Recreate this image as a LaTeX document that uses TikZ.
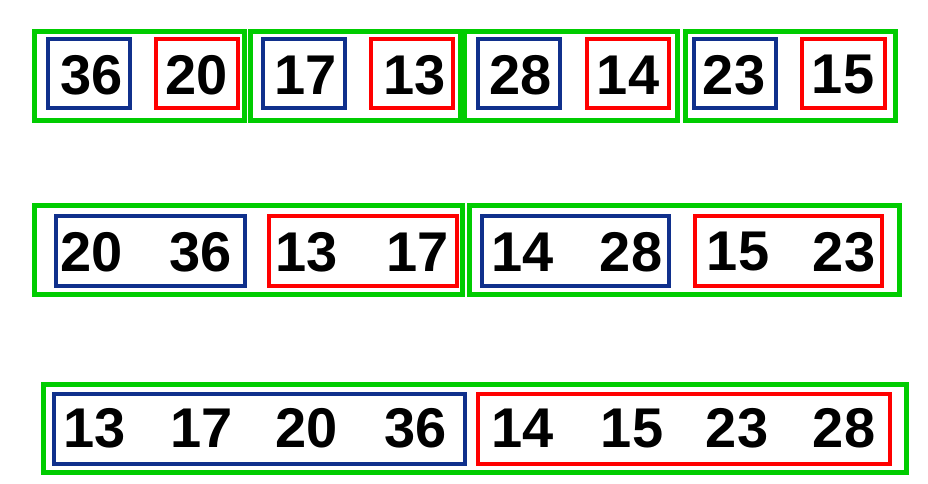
\documentclass[tikz,border=0pt]{standalone}
\usepackage{fontspec}
\setmainfont{Liberation Sans}
\definecolor{boxblue}{RGB}{16,48,140}
\definecolor{boxred}{RGB}{255,0,0}
\definecolor{boxgreen}{RGB}{0,204,0}
\tikzset{
  num/.style={font=\fontsize{56}{56}\selectfont\bfseries, inner sep=0pt},
  bluebox/.style={draw=boxblue, line width=3.6pt},
  redbox/.style={draw=boxred, line width=3.6pt},
  greenbox/.style={draw=boxgreen, line width=5pt},
}
\begin{document}
\begin{tikzpicture}[x=1pt, y=-1pt]
        \useasboundingbox (0, 0) rectangle (928, 483);
        % first row: pairs
        \draw[greenbox] (34.5, 31.5) rectangle (244.5, 120.5);
        \draw[greenbox] (250.5, 31.5) rectangle (460.5, 120.5);
        \draw[greenbox] (464.5, 31.5) rectangle (677.5, 120.5);
        \draw[greenbox] (685.5, 31.5) rectangle (895.5, 120.5);
        \draw[bluebox] (48, 39) rectangle (130, 108);
        \draw[redbox] (156, 39) rectangle (238, 108);
        \draw[bluebox] (263, 39) rectangle (345, 108);
        \draw[redbox] (371, 39) rectangle (453, 108);
        \draw[bluebox] (478, 39) rectangle (560, 108);
        \draw[redbox] (587, 39) rectangle (669, 108);
        \draw[bluebox] (694, 39) rectangle (776, 108);
        \draw[redbox] (802, 39) rectangle (885, 108);
        \node[num] (a1) at (91.5, 75) {36};
        \node[num] (a2) at (197, 75) {20};
        \node[num] (a3) at (306, 75) {17};
        \node[num] (a4) at (415, 75) {13};
        \node[num] (a5) at (521, 75) {28};
        \node[num] (a6) at (628, 75) {14};
        \node[num] (a7) at (734, 75) {23};
        \node[num] (a8) at (843, 75) {15};
        % second row: merged pairs
        \draw[greenbox] (34.5, 205.5) rectangle (462.5, 294.5);
        \draw[greenbox] (469.5, 205.5) rectangle (899.5, 294.5);
        \draw[bluebox] (56, 216) rectangle (245, 286);
        \draw[redbox] (269, 216) rectangle (457, 286);
        \draw[bluebox] (482, 216) rectangle (669, 286);
        \draw[redbox] (695, 216) rectangle (882, 286);
        \node[num] (b1) at (91.5, 252) {20};
        \node[num] (b2) at (201, 252) {36};
        \node[num] (b3) at (307, 252) {13};
        \node[num] (b4) at (418, 252) {17};
        \node[num] (b5) at (523, 252) {14};
        \node[num] (b6) at (631, 252) {28};
        \node[num] (b7) at (738, 252) {15};
        \node[num] (b8) at (844, 252) {23};
        % third row: merged quadruples
        \draw[greenbox] (43.5, 384.5) rectangle (906.5, 472.5);
        \draw[bluebox] (54, 394) rectangle (465, 464);
        \draw[redbox] (478, 394) rectangle (890, 464);
        \node[num] (c1) at (95, 428) {13};
        \node[num] (c2) at (202, 428) {17};
        \node[num] (c3) at (307, 428) {20};
        \node[num] (c4) at (416, 428) {36};
        \node[num] (c5) at (523, 428) {14};
        \node[num] (c6) at (632, 428) {15};
        \node[num] (c7) at (737, 428) {23};
        \node[num] (c8) at (844, 428) {28};
\end{tikzpicture}
\end{document}
